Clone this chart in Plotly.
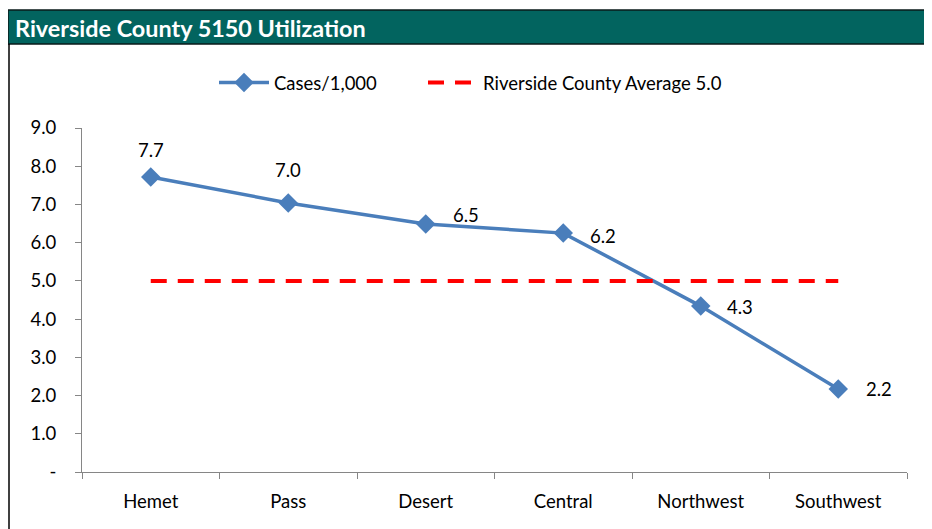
import plotly.graph_objects as go

regions = ["Hemet", "Pass", "Desert", "Central", "Northwest", "Southwest"]
cases_per_1000 = [7.72, 7.04, 6.49, 6.25, 4.34, 2.17]
case_labels = ["7.7", "7.0", "6.5", "6.2", "4.3", "2.2"]
county_average = [5.0, 5.0, 5.0, 5.0, 5.0, 5.0]
y_tick_vals = [0, 1, 2, 3, 4, 5, 6, 7, 8, 9]
y_tick_text = ["-", "1.0", "2.0", "3.0", "4.0", "5.0", "6.0", "7.0", "8.0", "9.0"]

# label offsets (pixels) relative to each marker
label_dx = [0, 0, 40, 40, 39, 41]
label_dy = [27, 33, 9, -3, -1, 0]

FONT = "Lato"
OFF = 8  # page body margin
W, H = 932 - OFF, 529 - OFF
L, R, T, B = 82 - OFF, 25, 128 - OFF, 57
pw, ph = W - L - R, H - T - B

def px_x(x):
    return (x - OFF - L) / pw

def px_y(y):
    return (H - B - (y - OFF)) / ph

fig = go.Figure()
fig.add_trace(go.Scatter(
    x=regions, y=cases_per_1000, name="Cases/1,000",
    mode="lines+markers",
    line=dict(color="#4A7EBB", width=3.5),
    marker=dict(symbol="diamond", size=15, color="#4A7EBB"),
    legend="legend",
))
fig.add_trace(go.Scatter(
    x=regions, y=county_average, name="Riverside County Average 5.0",
    mode="lines", line=dict(color="#FF0000", width=4, dash="16px,11px"),
    legend="legend2",
))

shapes = [
    dict(type="rect", xref="paper", yref="paper",
         x0=px_x(8), x1=px_x(940), y0=px_y(44), y1=px_y(10),
         fillcolor="#02645F", line=dict(color="#0A1A1A", width=1.5), layer="below"),
    dict(type="line", xref="paper", yref="paper",
         x0=px_x(9), x1=px_x(9), y0=px_y(44), y1=px_y(540),
         line=dict(color="black", width=1.5)),
]

annotations = [dict(
    text="<b>Riverside County 5150 Utilization</b>", xref="paper", yref="paper",
    x=px_x(13), y=px_y(28), xanchor="left", yanchor="middle", showarrow=False,
    font=dict(family=FONT, size=23.4, color="white"))]
for r, v, t, dx, dy in zip(regions, cases_per_1000, case_labels, label_dx, label_dy):
    annotations.append(dict(x=r, y=v, text=t, showarrow=False, xshift=dx, yshift=dy,
                            xanchor="center", yanchor="middle",
                            font=dict(family=FONT, size=18.5, color="black")))

legend_common = dict(orientation="h", yanchor="middle", xanchor="left",
                     font=dict(family=FONT, size=18.5, color="black"),
                     bgcolor="rgba(0,0,0,0)", itemwidth=50)

fig.update_layout(
    width=W, height=H,
    margin=dict(l=L, r=R, t=T, b=B),
    paper_bgcolor="white", plot_bgcolor="white",
    font=dict(family=FONT, size=18.5, color="black"),
    shapes=shapes,
    annotations=annotations,
    legend=dict(x=px_x(214), y=px_y(83), **legend_common),
    legend2=dict(x=px_x(423), y=px_y(83), **legend_common),
    showlegend=True,
    xaxis=dict(type="category", range=[-0.5, 5.5], showline=True, linecolor="#868686", linewidth=1,
               ticks="outside", tickson="boundaries", ticklen=6, tickcolor="#868686",
               showgrid=False, tickfont=dict(family=FONT, size=18.5, color="black"), zeroline=False,
               ticklabelstandoff=13),
    yaxis=dict(range=[0, 9], tickvals=y_tick_vals, ticktext=y_tick_text, showline=True,
               linecolor="#868686", linewidth=1, ticks="outside", ticklen=6, tickcolor="#868686",
               showgrid=False, zeroline=False, tickfont=dict(family=FONT, size=18.5, color="black"),
               ticklabelstandoff=15),
)

fig.write_html("out.html")
